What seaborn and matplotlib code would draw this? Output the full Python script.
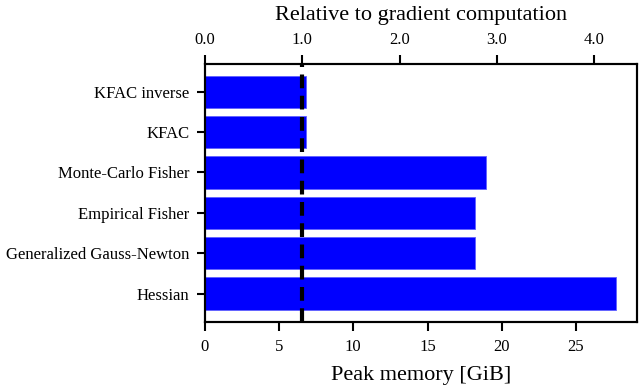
import matplotlib
matplotlib.use("Agg")
import matplotlib.pyplot as plt
import numpy as np
import seaborn as sns

# Peak memory per curvature matrix (GiB)
methods = ["KFAC inverse", "KFAC", "Monte-Carlo Fisher", "Empirical Fisher",
           "Generalized Gauss-Newton", "Hessian"]
peak_memory = [6.80, 6.79, 18.95, 18.19, 18.19, 27.71]
gradient_memory = 6.56  # reference: gradient computation
rel_ticks = [0.0, 1.0, 2.0, 3.0, 4.0]

sns.set_style("ticks")
plt.rcParams["font.family"] = ["Liberation Serif", "DejaVu Serif"]
plt.rcParams.update({
    "axes.linewidth": 1.5,
    "axes.edgecolor": "black",
    "axes.labelcolor": "black",
    "text.color": "black",
    "xtick.color": "black",
    "ytick.color": "black",
    "xtick.major.width": 1.5,
    "ytick.major.width": 1.5,
    "xtick.major.size": 6.5,
    "ytick.major.size": 6,
    "xtick.major.pad": 6,
    "ytick.major.pad": 5,
})

fig = plt.figure(figsize=(6.4, 3.9), dpi=100)
ax = fig.add_axes([0.320, 0.175, 0.675, 0.662])

sns.barplot(x=peak_memory, y=methods, orient="h", color="blue", saturation=1,
            width=0.8, edgecolor="#6060ff", linewidth=0.6, ax=ax)
ax.axvline(gradient_memory, color="black", linestyle="--", linewidth=3,
           dashes=(3.3, 1.8))
ax.set_ylim(len(methods) - 0.3, -0.7)
ax.set_xlim(0, max(peak_memory) * 1.05)
ax.set_xlabel("Peak memory [GiB]", fontsize=16, labelpad=8)
ax.set_ylabel("")
ax.tick_params(axis="both", labelsize=12)

# top axis: relative to gradient computation
ax2 = ax.twiny()
ax2.set_xlim(np.array(ax.get_xlim()) / gradient_memory)
ax2.set_xticks(rel_ticks)
ax2.set_xticklabels([f"{t:.1f}" for t in rel_ticks])
ax2.set_xlabel("Relative to gradient computation", fontsize=16, labelpad=8)
ax2.tick_params(axis="x", labelsize=12, pad=5)

for a in (ax, ax2):
    for s in a.spines.values():
        s.set_visible(True)
        s.set_linewidth(1.5)

fig.savefig("out.png", dpi=100)
